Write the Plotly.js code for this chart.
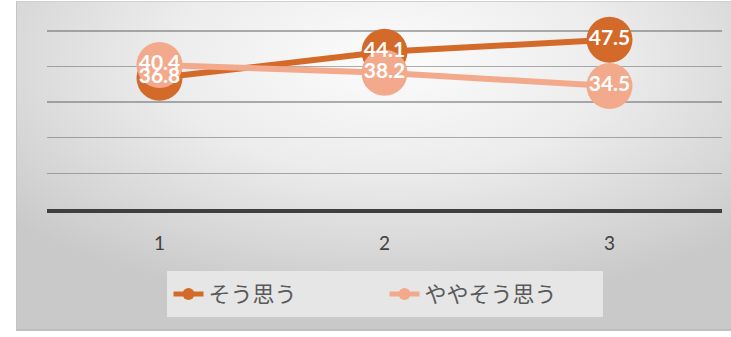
<!DOCTYPE html>
<html>
<head>
<meta charset="utf-8">
<script src="https://cdn.plot.ly/plotly-3.0.1.min.js"></script>
<style>
  html, body { margin: 0; padding: 0; background: #ffffff; }
  #bg {
    position: absolute; left: 16px; top: 1px; width: 715px; height: 330px;
    background: radial-gradient(ellipse 70% 75% at 52% 18%, #fcfcfc 0%, #ececec 45%, #d9d9d9 75%, #c9c9c9 100%);
    border-top: 1px solid #d0d0d0; border-left: 1px solid #c4c4c4; border-bottom: 2px solid #c0c0c0;
    box-sizing: border-box;
  }
  #chart { position: absolute; left: 0; top: 0; width: 731px; height: 337px; }
</style>
</head>
<body>
<div id="bg"></div>
<div id="chart"></div>
<script>
const categories = [1, 2, 3];
const tickLabels = ['1', '2', '3'];
const seriesNames = ['そう思う', 'ややそう思う'];
const soOmou = [36.8, 44.1, 47.5];
const yayaSoOmou = [40.4, 38.2, 34.5];

const colors = ['#D46A29', '#F3A98B'];
const seriesValues = [soOmou, yayaSoOmou];

const traces = [];
seriesValues.forEach((vals, i) => {
  traces.push({
    type: 'scatter', mode: 'lines+markers', x: categories, y: vals, name: seriesNames[i],
    line: { color: colors[i], width: 6 },
    marker: { color: colors[i], size: 46 },
    cliponaxis: false, hoverinfo: 'skip'
  });
});
seriesValues.forEach((vals, i) => {
  traces.push({
    type: 'scatter', mode: 'text', x: categories, y: vals, showlegend: false,
    text: vals.map(v => v.toFixed(1)), textposition: 'middle center',
    textfont: { family: 'Lato, sans-serif', size: 21, color: '#ffffff', weight: 'bold' },
    cliponaxis: false, hoverinfo: 'skip'
  });
});

const layout = {
  width: 731, height: 337,
  margin: { l: 47, r: 9, t: 29, b: 128 },
  paper_bgcolor: 'rgba(0,0,0,0)', plot_bgcolor: 'rgba(0,0,0,0)',
  showlegend: true,
  xaxis: {
    range: [0.5, 3.5], tickvals: categories, ticktext: tickLabels,
    showgrid: false, zeroline: false, showline: true, linecolor: '#3f3f3f', linewidth: 4,
    ticks: '', ticklabelstandoff: 14,
    tickfont: { family: 'Lato, sans-serif', size: 19, color: '#404040' }
  },
  yaxis: {
    range: [0, 50.5], tickvals: [10, 20, 30, 40, 50], showticklabels: false,
    showgrid: true, gridcolor: 'rgba(110,110,110,0.55)', gridwidth: 1.5, zeroline: false, showline: false
  },
  legend: {
    orientation: 'h', x: 0.5, xanchor: 'center', y: -0.345, yanchor: 'top',
    bgcolor: '#e6e6e6', bordercolor: '#e6e6e6', borderwidth: 2,
    itemsizing: 'constant', entrywidth: 171,
    font: { family: '"Noto Sans CJK JP", sans-serif', size: 22, color: '#595959' }
  }
};

Plotly.newPlot('chart', traces, layout, { displayModeBar: false, staticPlot: true });
</script>
</body>
</html>
